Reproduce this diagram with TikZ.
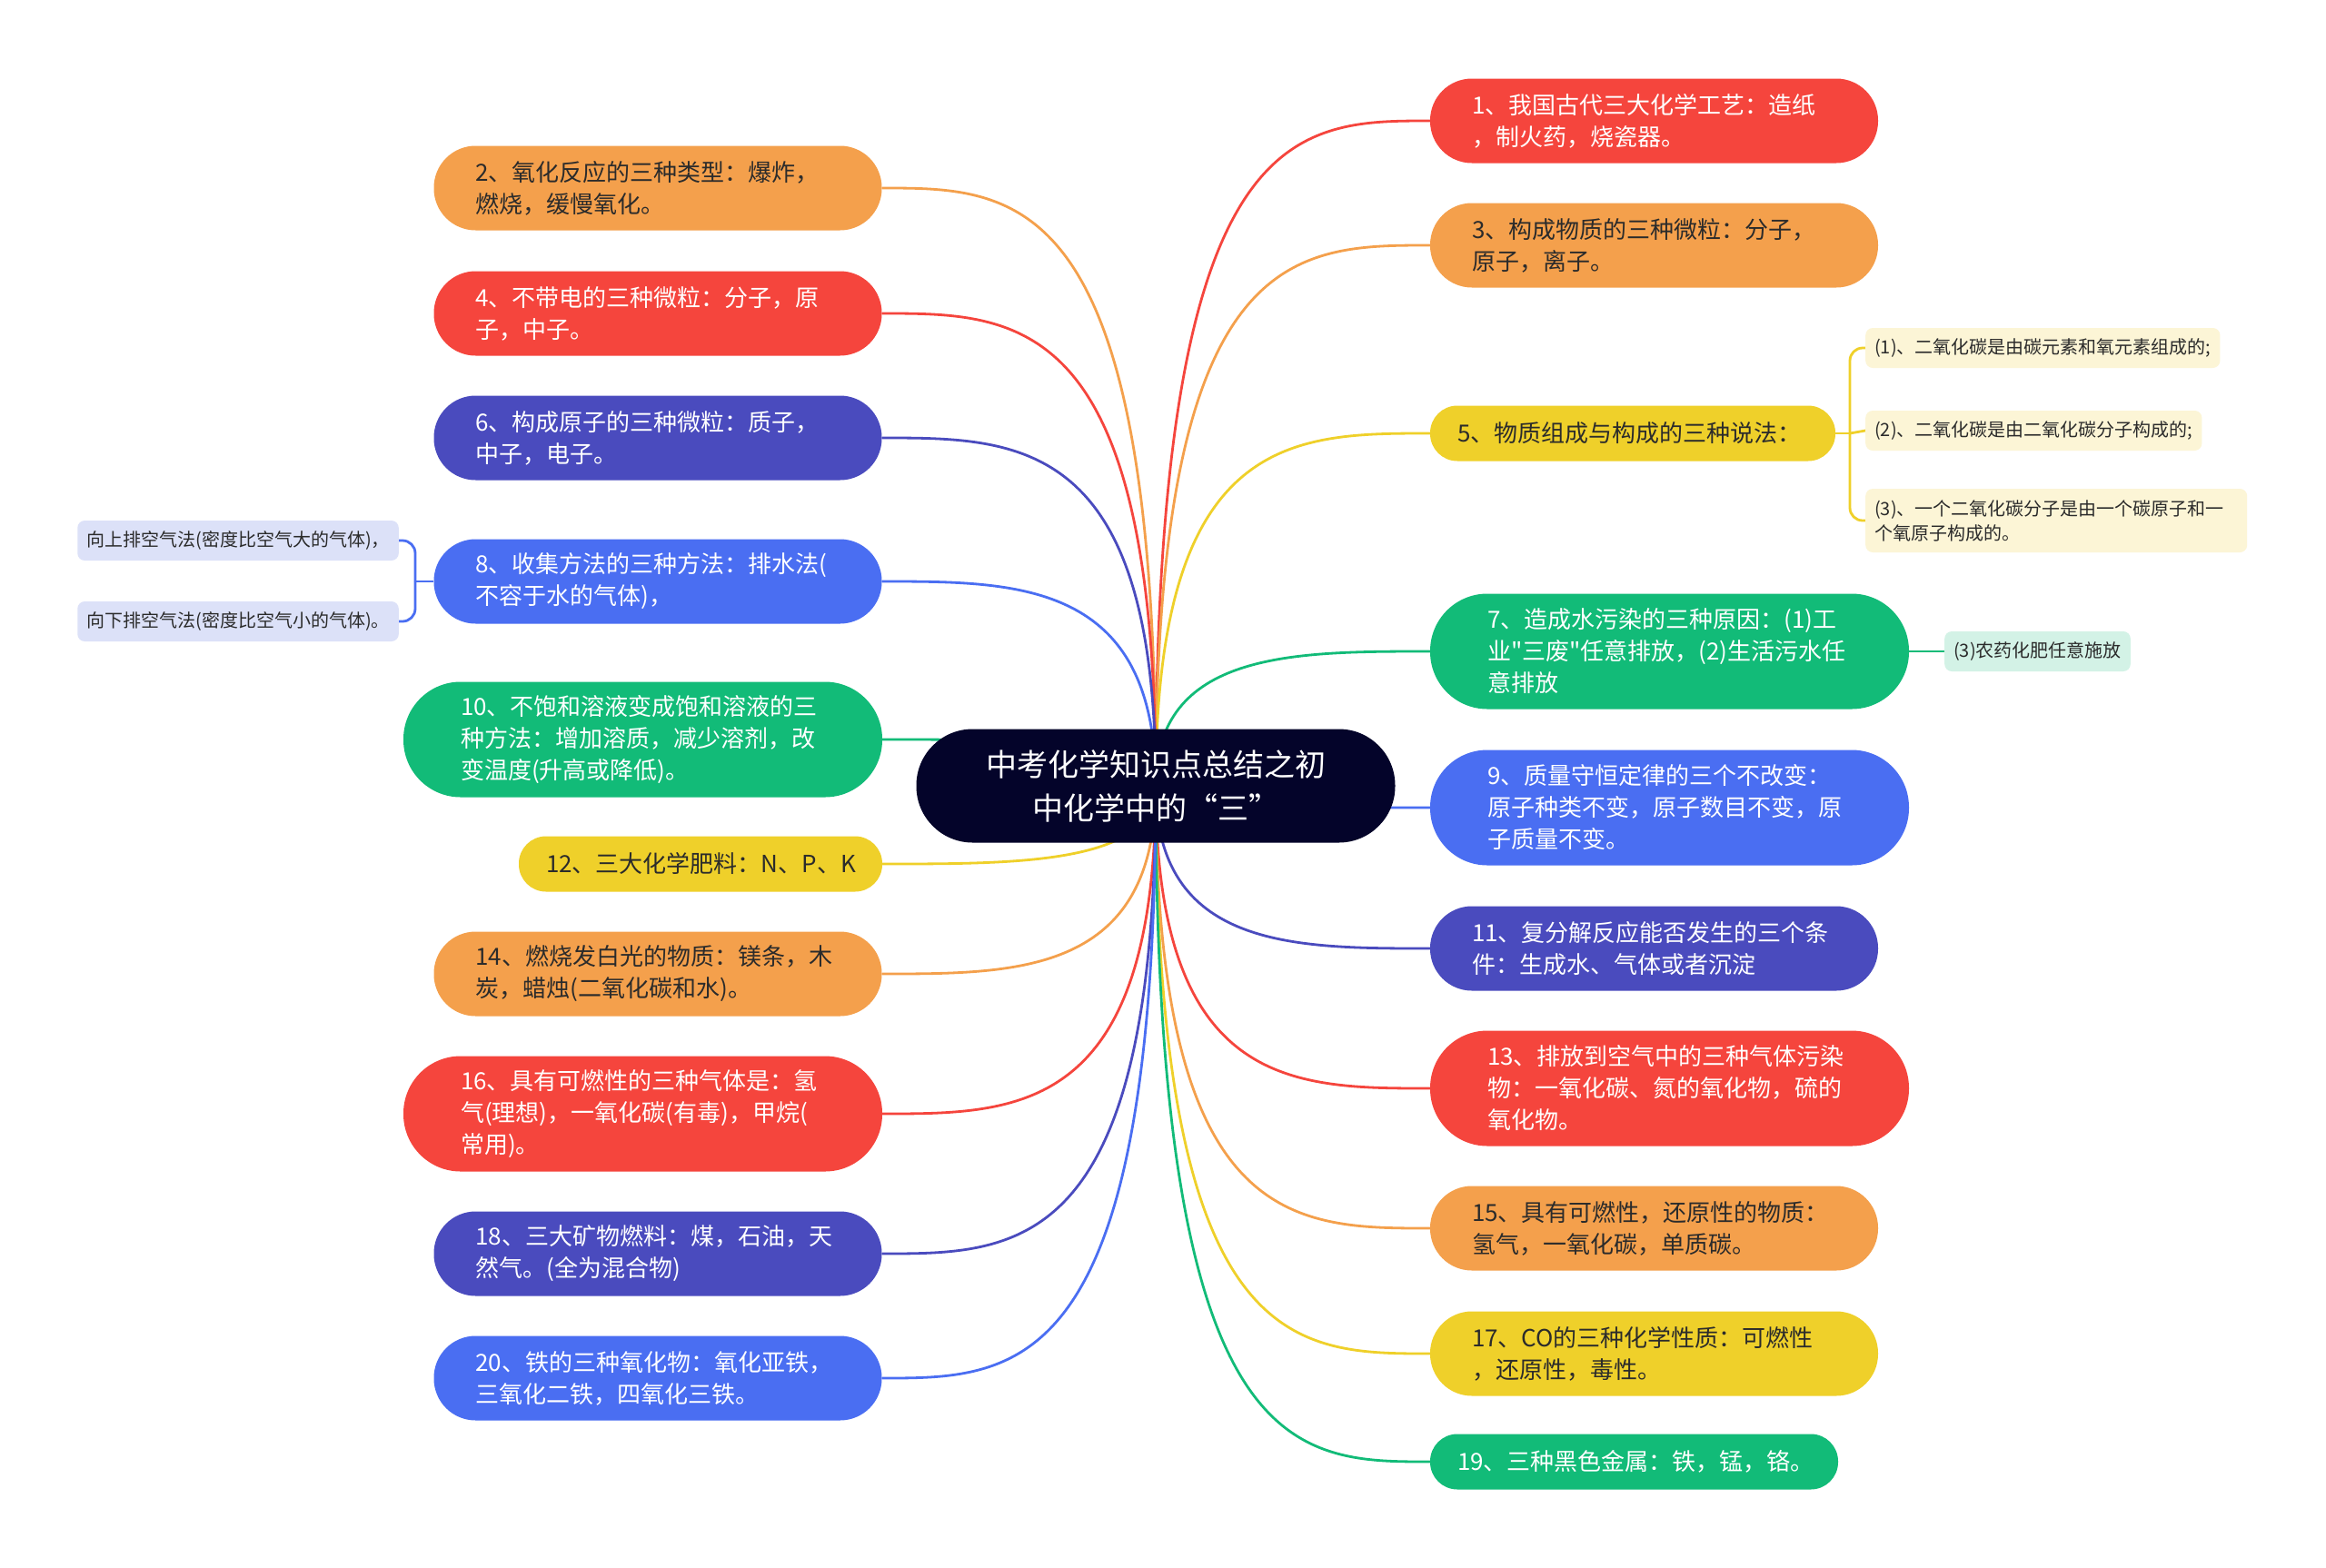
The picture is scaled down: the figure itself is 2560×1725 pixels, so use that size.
\documentclass[tikz,border=0pt]{standalone}
\usepackage{fontspec}
\setmainfont{Noto Sans CJK SC}[Ligatures=TeXOff]
\usetikzlibrary{calc}
\pgfdeclarelayer{bg}
\pgfsetlayers{bg,main}
\definecolor{cR}{HTML}{F5453D}
\definecolor{cO}{HTML}{F4A04C}
\definecolor{cY}{HTML}{EFD02A}
\definecolor{cG}{HTML}{12BB78}
\definecolor{cB}{HTML}{4A6EF2}
\definecolor{cP}{HTML}{4A4BBE}
\definecolor{cC}{HTML}{04042A}
\definecolor{cT}{HTML}{2B2B2B}
\definecolor{sY}{HTML}{FCF5D6}
\definecolor{sB}{HTML}{DCE1F8}
\definecolor{sG}{HTML}{D3F2E6}
\newcommand\mmlink[3]{\draw[#1,conn] (c.center) .. controls (c.center |- #2.#3) and ($(c.center |- #2.#3)!0.5!(#2.#3)$) .. (#2.#3);}
\begin{document}
\begin{tikzpicture}[x=1pt,y=-1pt,
  conn/.style={line width=2.8pt},
  base/.style={inner ysep=0pt, align=left, font=\fontsize{26}{35}\selectfont},
  htwo/.style={base, minimum height=93pt, rounded corners=46pt, inner xsep=46pt, text width=401pt},
  hthree/.style={base, minimum height=127pt, rounded corners=63pt, inner xsep=63pt, text width=401pt},
  hone/.style={base, minimum height=61pt, rounded corners=30pt, inner xsep=30pt},
  dk/.style={text=cT}, wt/.style={text=white},
  sub/.style={inner xsep=10pt, inner ysep=0pt, minimum height=44pt, rounded corners=8pt, font=\fontsize{20}{27}\selectfont, text=cT, align=left},
]
\useasboundingbox (0,0) rectangle (2560,1725);

% centre
\node[fill=cC, text=white, minimum width=527pt, minimum height=125pt, rounded corners=62pt, align=center, font=\fontsize{34}{48}\selectfont, inner sep=0pt] (c) at (1272,865) {中考化学知识点总结之初\\中化学中的“三”};

% right side
\node[htwo, fill=cR, wt] (n1) at (1820.5,133) {1、我国古代三大化学工艺：造纸\\，制火药，烧瓷器。};
\node[htwo, fill=cO, dk] (n3) at (1820.5,270) {3、构成物质的三种微粒：分子，\\原子，离子。};
\node[hone, fill=cY, dk, text width=386pt] (n5) at (1797,477) {5、物质组成与构成的三种说法：};
\node[hthree, fill=cG, wt] (n7) at (1837.5,717) {7、造成水污染的三种原因：(1)工\\业"三废"任意排放，(2)生活污水任\\意排放};
\node[hthree, fill=cB, wt] (n9) at (1837.5,889) {9、质量守恒定律的三个不改变：\\原子种类不变，原子数目不变，原\\子质量不变。};
\node[htwo, fill=cP, wt] (n11) at (1820.5,1044) {11、复分解反应能否发生的三个条\\件：生成水、气体或者沉淀};
\node[hthree, fill=cR, wt] (n13) at (1837.5,1198) {13、排放到空气中的三种气体污染\\物：一氧化碳、氮的氧化物，硫的\\氧化物。};
\node[htwo, fill=cO, dk] (n15) at (1820.5,1352) {15、具有可燃性，还原性的物质：\\氢气，一氧化碳，单质碳。};
\node[htwo, fill=cY, dk] (n17) at (1820.5,1490) {17、CO的三种化学性质：可燃性\\，还原性，毒性。};
\node[hone, fill=cG, wt, text width=389pt] (n19) at (1798.5,1609) {19、三种黑色金属：铁，锰，铬。};

% left side
\node[htwo, fill=cO, dk] (n2) at (724,207) {2、氧化反应的三种类型：爆炸，\\燃烧，缓慢氧化。};
\node[htwo, fill=cR, wt] (n4) at (724,345) {4、不带电的三种微粒：分子，原\\子，中子。};
\node[htwo, fill=cP, wt] (n6) at (724,482) {6、构成原子的三种微粒：质子，\\中子，电子。};
\node[htwo, fill=cB, wt] (n8) at (724,640) {8、收集方法的三种方法：排水法(\\不容于水的气体)，};
\node[hthree, fill=cG, wt] (n10) at (707.5,814) {10、不饱和溶液变成饱和溶液的三\\种方法：增加溶质，减少溶剂，改\\变温度(升高或降低)。};
\node[hone, fill=cY, dk, text width=340pt] (n12) at (771,951) {12、三大化学肥料：N、P、K};
\node[htwo, fill=cO, dk] (n14) at (724,1072) {14、燃烧发白光的物质：镁条，木\\炭，蜡烛(二氧化碳和水)。};
\node[hthree, fill=cR, wt] (n16) at (707.5,1226) {16、具有可燃性的三种气体是：氢\\气(理想)，一氧化碳(有毒)，甲烷(\\常用)。};
\node[htwo, fill=cP, wt] (n18) at (724,1380) {18、三大矿物燃料：煤，石油，天\\然气。(全为混合物)};
\node[htwo, fill=cB, wt] (n20) at (724,1517) {20、铁的三种氧化物：氧化亚铁，\\三氧化二铁，四氧化三铁。};

% sub nodes
\node[sub, fill=sY, anchor=west] (s5a) at (2053,383) {(1)、二氧化碳是由碳元素和氧元素组成的;};
\node[sub, fill=sY, anchor=west] (s5b) at (2053,474) {(2)、二氧化碳是由二氧化碳分子构成的;};
\node[sub, fill=sY, anchor=west, minimum height=70pt, text width=400pt] (s5c) at (2053,573) {(3)、一个二氧化碳分子是由一个碳原子和一\\个氧原子构成的。};
\node[sub, fill=sG, anchor=west] (s7) at (2140,717) {(3)农药化肥任意施放};
\node[sub, fill=sB, anchor=east] (s8a) at (439,595) {向上排空气法(密度比空气大的气体)，};
\node[sub, fill=sB, anchor=east] (s8b) at (439,684) {向下排空气法(密度比空气小的气体)。};

\coordinate (j5) at (2036,477);
\coordinate (j8) at (457,640);

\begin{pgfonlayer}{bg}
\fill[white] (0,0) rectangle (2560,1725);
\mmlink{cR}{n1}{west}
\mmlink{cO}{n3}{west}
\mmlink{cY}{n5}{west}
\mmlink{cG}{n7}{west}
\mmlink{cB}{n9}{west}
\mmlink{cP}{n11}{west}
\mmlink{cR}{n13}{west}
\mmlink{cO}{n15}{west}
\mmlink{cY}{n17}{west}
\mmlink{cG}{n19}{west}
\mmlink{cO}{n2}{east}
\mmlink{cR}{n4}{east}
\mmlink{cP}{n6}{east}
\mmlink{cB}{n8}{east}
\mmlink{cG}{n10}{east}
\mmlink{cY}{n12}{east}
\mmlink{cO}{n14}{east}
\mmlink{cR}{n16}{east}
\mmlink{cP}{n18}{east}
\mmlink{cB}{n20}{east}
\draw[cY, conn] (n5.east) -- (j5);
\draw[cY, conn, rounded corners=14pt] (j5) |- (s5a.west);
\draw[cY, conn] (j5) -- (s5b.west);
\draw[cY, conn, rounded corners=14pt] (j5) |- (s5c.west);
\draw[cG, conn] (n7.east) -- (s7.west);
\draw[cB, conn] (n8.west) -- (j8);
\draw[cB, conn, rounded corners=14pt] (j8) |- (s8a.east);
\draw[cB, conn, rounded corners=14pt] (j8) |- (s8b.east);
\end{pgfonlayer}
\end{tikzpicture}
\end{document}
